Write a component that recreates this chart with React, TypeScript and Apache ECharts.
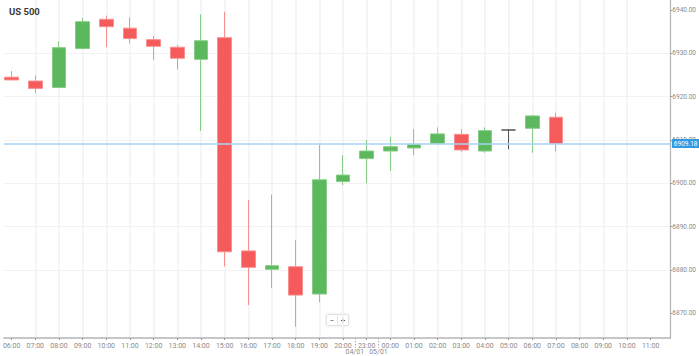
import React, { useEffect, useRef } from "react";
import * as echarts from "echarts";

const title = "US 500";
const categories = [
  "06:00", "07:00", "08:00", "09:00", "10:00", "11:00", "12:00", "13:00", "14:00", "15:00",
  "16:00", "17:00", "18:00", "19:00", "20:00", "23:00", "00:00", "01:00", "02:00", "03:00",
  "04:00", "05:00", "06:00", "07:00", "08:00", "09:00", "10:00", "11:00",
];
const dateMarks = ["04/01", "05/01"];
const dateMarkPos = [14.5, 15.5];

const opens = [6924.5, 6923.6, 6922.1, 6931.1, 6937.85, 6935.8, 6933.15, 6931.4, 6928.6, 6933.6, 6884.4, 6880.15, 6880.75, 6874.45, 6900.4, 6905.7, 6907.45, 6908.15, 6909.2, 6911.3, 6907.45, 6912.3, 6912.7, 6915.25];
const closes = [6923.85, 6921.9, 6931.3, 6937.3, 6936.15, 6933.4, 6931.6, 6928.85, 6932.9, 6884.2, 6880.6, 6881.0, 6874.2, 6900.8, 6901.9, 6907.45, 6908.45, 6909.0, 6911.4, 6907.7, 6912.15, 6912.3, 6915.55, 6909.18];
const lows = [6923.8, 6920.8, 6922.0, 6931.0, 6931.4, 6932.3, 6928.5, 6926.3, 6912.1, 6880.8, 6871.9, 6875.8, 6866.9, 6872.55, 6899.6, 6900.0, 6902.9, 6906.5, 6909.0, 6907.3, 6907.05, 6907.85, 6907.05, 6907.3];
const highs = [6925.9, 6924.9, 6932.7, 6938.2, 6938.7, 6938.3, 6934.0, 6931.9, 6939.0, 6939.6, 6896.15, 6897.4, 6886.9, 6908.85, 6906.5, 6910.0, 6910.8, 6912.5, 6912.9, 6912.5, 6912.9, 6912.5, 6915.8, 6916.3];
const yTicks = [6870, 6880, 6890, 6900, 6910, 6920, 6930, 6940];
const currentPrice = 6909.18;

const GREEN = "#5cb85c";
const RED = "#f65b5b";
const GRIDC = "#f2f2f2";
const LABELC = "#8a8a8a";

export default function App() {
  const ref = useRef<HTMLDivElement>(null);
  useEffect(() => {
    if (!ref.current) return;
    const chart = echarts.init(ref.current, null, { renderer: "svg" });
    const idx = categories.map((_, i) => i);
    const data = opens.map((o, i) => [i, o, closes[i], lows[i], highs[i]]);
    chart.setOption({
      animation: false,
      backgroundColor: "#ffffff",
      grid: { left: 0, right: 23, top: 0, bottom: 18 },
      xAxis: [
        {
          type: "value",
          min: -1 / 3,
          max: 27.8333,
          axisLine: { show: true, onZero: false, lineStyle: { color: "#b4b4b4", width: 1.5 } },
          axisTick: { show: true, length: 2, customValues: idx, lineStyle: { color: "#999" } },
          axisLabel: {
            customValues: idx,
            formatter: (v: number) => categories[Math.round(v)] ?? "",
            fontSize: 7,
            color: LABELC,
            margin: 4,
            fontFamily: "Roboto",
          },
          splitLine: { show: true, showMinLine: false, showMaxLine: false, lineStyle: { color: GRIDC, width: 1.5 } },
        },
        {
          type: "value",
          position: "bottom",
          min: -1 / 3,
          max: 27.8333,
          axisLine: { show: false, onZero: false },
          axisTick: { show: true, length: 10, customValues: dateMarkPos, lineStyle: { color: "#aaa", type: [1.5, 1.5] } },
          axisLabel: {
            customValues: dateMarkPos,
            formatter: (v: number) => dateMarks[dateMarkPos.indexOf(v)] ?? "",
            fontSize: 7,
            color: LABELC,
            margin: 10,
            fontFamily: "Roboto",
          },
          splitLine: { show: true, showMinLine: false, showMaxLine: false, lineStyle: { color: GRIDC, width: 1.5 } },
        },
      ],
      yAxis: {
        type: "value",
        position: "right",
        min: 6864.3,
        max: 6942.3,
        axisLine: { show: true, onZero: false, lineStyle: { color: "#b4b4b4", width: 1.2 } },
        axisTick: { show: true, length: 2, customValues: yTicks, lineStyle: { color: "#999" } },
        axisLabel: {
          customValues: yTicks,
          formatter: (v: number) => v.toFixed(2),
          fontSize: 6.5,
          color: LABELC,
          margin: 2,
          fontFamily: "Roboto",
        },
        splitLine: { show: true, showMinLine: false, showMaxLine: false, lineStyle: { color: GRIDC, width: 1 } },
      },
      series: [
        {
          type: "candlestick",
          xAxisIndex: 0,
          encode: { x: 0, y: [1, 2, 3, 4] },
          barWidth: 14,
          data,
          itemStyle: {
            color: GREEN,
            color0: RED,
            borderColor: "#86cc86",
            borderColor0: "#f98f8f",
            borderColorDoji: "#555555",
            borderWidth: 1,
          },
          markLine: {
            silent: true,
            symbol: "none",
            lineStyle: { color: "#a7d3f3", width: 1.5, type: "solid" },
            label: {
              position: "end",
              distance: 1.5,
              formatter: () => currentPrice.toFixed(2),
              color: "#ffffff",
              backgroundColor: "#2f9be3",
              fontSize: 6.5,
              padding: [1, 2, 1, 2],
              borderRadius: 1,
              fontFamily: "Roboto",
            },
            data: [{ yAxis: currentPrice }],
          },
        },
      ],
      graphic: [
        {
          type: "text",
          left: 9,
          top: 6,
          z: 100,
          style: { text: title, fontSize: 9.5, fontWeight: "bold", fill: "#3a3a3a", fontFamily: "Roboto" },
        },
        {
          type: "group",
          left: 326,
          top: 313,
          z: 100,
          children: [
            { type: "rect", shape: { x: 0, y: 0, width: 22, height: 11, r: 1 }, style: { fill: "#fff", stroke: "#e2e2e2", lineWidth: 1, shadowBlur: 2, shadowColor: "rgba(0,0,0,0.12)" } },
            { type: "line", shape: { x1: 11, y1: 1, x2: 11, y2: 10 }, style: { stroke: "#e6e6e6", lineWidth: 1 } },
            { type: "text", x: 5.5, y: 5.5, style: { text: "−", fontSize: 8, fill: "#555", align: "center", verticalAlign: "middle", fontFamily: "Roboto" } },
            { type: "text", x: 16.5, y: 5.5, style: { text: "+", fontSize: 8, fill: "#555", align: "center", verticalAlign: "middle", fontFamily: "Roboto", fontWeight: "bold" } },
          ],
        },
      ],
    });
    return () => chart.dispose();
  }, []);
  return <div ref={ref} style={{ position: "fixed", left: 0, top: 0, width: 699, height: 356 }} />;
}
